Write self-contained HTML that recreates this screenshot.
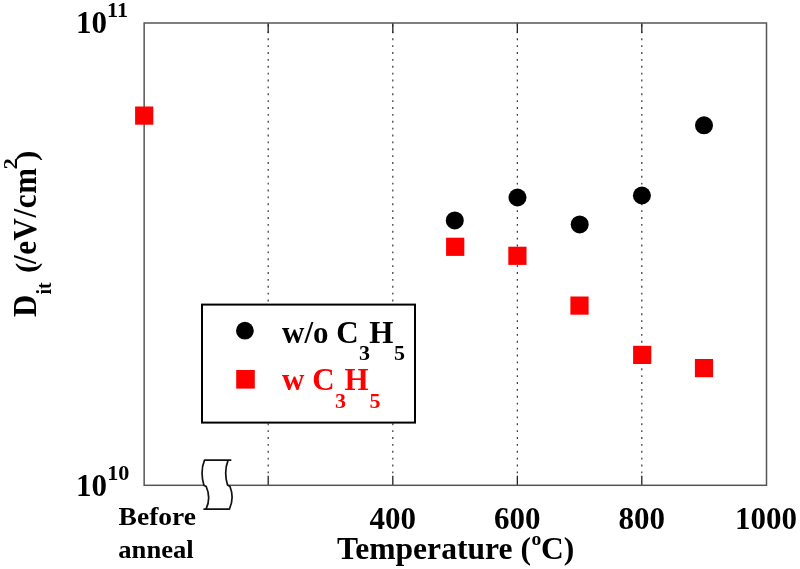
<!DOCTYPE html>
<html lang="en">
<head>
<meta charset="utf-8">
<title>Dit vs anneal temperature</title>
<style>
html,body{margin:0;padding:0;background:#fff;}
body{width:800px;height:569px;overflow:hidden;}
svg{display:block;}
text{font-family:"Liberation Serif","Times New Roman",serif;font-weight:bold;}
</style>
</head>
<body>
<svg width="800" height="569" viewBox="0 0 800 569">
<rect x="0" y="0" width="800" height="569" fill="#ffffff"/>

<g stroke="#333" stroke-width="1.2" fill="none">
<line x1="268.20" y1="24.55" x2="268.20" y2="476" stroke-dasharray="1.9 4.975"/>
<line x1="392.80" y1="24.55" x2="392.80" y2="476" stroke-dasharray="1.9 4.975"/>
<line x1="517.35" y1="24.55" x2="517.35" y2="476" stroke-dasharray="1.9 4.975"/>
<line x1="641.80" y1="24.55" x2="641.80" y2="476" stroke-dasharray="1.9 4.975"/>
</g>
<g stroke="#222" stroke-width="1.3" fill="none">
<line x1="268.20" y1="23.0" x2="268.20" y2="32.9"/>
<line x1="268.20" y1="475.7" x2="268.20" y2="485.3"/>
<line x1="392.80" y1="23.0" x2="392.80" y2="32.9"/>
<line x1="392.80" y1="475.7" x2="392.80" y2="485.3"/>
<line x1="517.35" y1="23.0" x2="517.35" y2="32.9"/>
<line x1="517.35" y1="475.7" x2="517.35" y2="485.3"/>
<line x1="641.80" y1="23.0" x2="641.80" y2="32.9"/>
<line x1="641.80" y1="475.7" x2="641.80" y2="485.3"/>
</g>
<rect x="144.15" y="23.0" width="622.35" height="462.30" fill="none" stroke="#555" stroke-width="1.5"/>
<path d="M204.5,460.1 Q199.9,471.5 203.9,485.3 L206.2,486.5 Q211.3,498.1 206,509.2 L229.4,509.2 Q234.5,498.1 230,486.5 L227.5,485 Q223.6,471.6 228.1,460.1 Z" fill="#fff" stroke="none"/>
<path d="M231.3,460.1 L204.5,460.1 Q199.9,471.5 203.9,485.3 L206.2,486.5 Q211.3,498.1 206,509.2 M203.4,509.2 L229.4,509.2 Q234.5,498.1 230,486.5 L227.5,485 Q223.6,471.6 228.1,460.1" fill="none" stroke="#111" stroke-width="1.7" stroke-linejoin="round"/>

<g fill="#000">
<circle cx="454.8" cy="220.4" r="9"/>
<circle cx="517.5" cy="197.5" r="9"/>
<circle cx="579.7" cy="224.4" r="9"/>
<circle cx="641.9" cy="195.5" r="9"/>
<circle cx="704.0" cy="125.3" r="9"/>
</g>
<g fill="#ff0000">
<rect x="135.10" y="106.50" width="18.2" height="18.2"/>
<rect x="446.10" y="237.70" width="18.2" height="18.2"/>
<rect x="508.30" y="246.70" width="18.2" height="18.2"/>
<rect x="570.40" y="296.50" width="18.2" height="18.2"/>
<rect x="633.10" y="345.80" width="18.2" height="18.2"/>
<rect x="694.90" y="359.00" width="18.2" height="18.2"/>
</g>
<rect x="202" y="304.6" width="213" height="118" fill="#fff" stroke="#000" stroke-width="2"/>
<circle cx="244.9" cy="330.7" r="8.9" fill="#000"/>
<rect x="236.2" y="370" width="18.6" height="18.6" fill="#ff0000"/>
<g font-size="31" fill="#000">
<text x="282" y="343">w/o C</text>
<text transform="translate(359,359.5) scale(1.1,1)" font-size="20">3</text>
<text x="369.2" y="343">H</text>
<text transform="translate(394,359.5) scale(1.1,1)" font-size="20">5</text>
</g>
<g font-size="31" fill="#ff0000">
<text x="282" y="390.4">w C</text>
<text transform="translate(335,408) scale(1.1,1)" font-size="20">3</text>
<text x="344.6" y="390.4">H</text>
<text transform="translate(369.6,408) scale(1.1,1)" font-size="20">5</text>
</g>
<text x="76" y="33.4" font-size="31">10</text>
<text transform="translate(107.1,17.1) scale(1.08,1)" font-size="20.5">11</text>
<text x="76" y="495.6" font-size="31">10</text>
<text transform="translate(107.3,480.2) scale(1.08,1)" font-size="20.5">10</text>
<text x="392.69" y="528.5" font-size="31" text-anchor="middle">400</text>
<text x="517.16" y="528.5" font-size="31" text-anchor="middle">600</text>
<text x="641.63" y="528.5" font-size="31" text-anchor="middle">800</text>
<text x="766.10" y="528.5" font-size="31" text-anchor="middle">1000</text>
<text transform="translate(118.6,524.5) scale(1.088,1)" font-size="25.3">Before</text>
<text transform="translate(118.3,557.9) scale(1.052,1)" font-size="25.3">anneal</text>
<text transform="translate(337,558.5) scale(1.033,1)" font-size="30.6">Temperature (<tspan dy="-14" dx="0.6" font-size="19">o</tspan><tspan dy="14" dx="-0.3">C)</tspan></text>
<g transform="translate(35.7,317) rotate(-90)" font-size="31">
<text transform="scale(1,1.09)" x="0" y="0">D</text>
<text x="22.4" y="15" font-size="20">it</text>
<text transform="scale(1,0.93)" x="44" y="0">(</text>
<text transform="scale(1,1.09)" x="53" y="0" letter-spacing="0.62">/eV/cm</text>
<text transform="translate(147.6,-18.8) scale(1.08,0.92)" font-size="21">2</text>
<text transform="scale(1,0.95)" x="156" y="0">)</text>
</g>
</svg>
</body>
</html>
